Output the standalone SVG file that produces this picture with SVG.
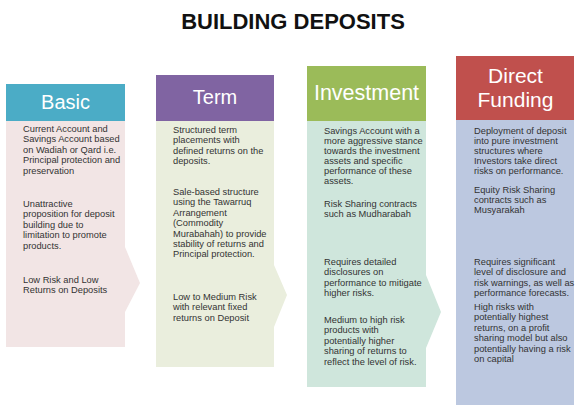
<svg xmlns="http://www.w3.org/2000/svg" width="584" height="412" viewBox="0 0 584 412">
<style>
.title{font-family:"Liberation Sans",Arial,sans-serif;font-weight:bold;font-size:22px;fill:#111;text-anchor:middle}
.hd{font-family:"Liberation Sans",Arial,sans-serif;font-size:20px;fill:#fff;text-anchor:middle}
.tx{font-family:"Liberation Sans",Arial,sans-serif;font-size:9.3px;fill:#333}
</style>
<rect width="584" height="412" fill="#fff"/>
<text class="title" x="293" y="29">BUILDING DEPOSITS</text>
<g id="connectors"></g>
<g id="basic">
<path d="M6,121 H125 V247 L140,283 L125,312 V347 H6 Z" fill="#F2E5E5"/>
<rect x="6" y="84" width="119" height="37" fill="#4BACC6"/>
<text class="hd" x="65.5" y="109">Basic</text>
<text class="tx">
<tspan x="23" y="132">Current Account and</tspan>
<tspan x="23" y="142.4">Savings Account based</tspan>
<tspan x="23" y="152.8">on Wadiah or Qard i.e.</tspan>
<tspan x="23" y="163.2">Principal protection and</tspan>
<tspan x="23" y="173.6">preservation</tspan>
<tspan x="23" y="207">Unattractive</tspan>
<tspan x="23" y="217.4">proposition for deposit</tspan>
<tspan x="23" y="227.8">building due to</tspan>
<tspan x="23" y="238.2">limitation to promote</tspan>
<tspan x="23" y="248.6">products.</tspan>
<tspan x="23" y="283">Low Risk and Low</tspan>
<tspan x="23" y="293.4">Returns on Deposits</tspan>
</text>
</g>
<g id="term">
<path d="M156,121 H274 V265 L287,295 L274,327 V367 H156 Z" fill="#EAEEDD"/>
<rect x="156" y="75" width="118" height="46" fill="#8064A2"/>
<text class="hd" x="215" y="104">Term</text>
<text class="tx">
<tspan x="173" y="132.7">Structured term</tspan>
<tspan x="173" y="143.1">placements with</tspan>
<tspan x="173" y="153.5">defined returns on the</tspan>
<tspan x="173" y="163.9">deposits.</tspan>
<tspan x="173" y="195">Sale-based structure</tspan>
<tspan x="173" y="205.4">using the Tawarruq</tspan>
<tspan x="173" y="215.8">Arrangement</tspan>
<tspan x="173" y="226.2">(Commodity</tspan>
<tspan x="173" y="236.6">Murabahah) to provide</tspan>
<tspan x="173" y="247">stability of returns and</tspan>
<tspan x="173" y="257.4">Principal protection.</tspan>
<tspan x="173" y="300">Low to Medium Risk</tspan>
<tspan x="173" y="310.4">with relevant fixed</tspan>
<tspan x="173" y="320.8">returns on Deposit</tspan>
</text>
</g>
<g id="investment">
<path d="M307,121 H426 V275 L441,312 L426,348 V387 H307 Z" fill="#CFE6DC"/>
<rect x="307" y="66" width="119" height="55" fill="#9BBB59"/>
<text class="hd" x="366.5" y="100" style="font-size:21.5px">Investment</text>
<text class="tx">
<tspan x="324" y="133.7">Savings Account with a</tspan>
<tspan x="324" y="143.7">more aggressive stance</tspan>
<tspan x="324" y="153.7">towards the investment</tspan>
<tspan x="324" y="163.7">assets and specific</tspan>
<tspan x="324" y="173.7">performance of these</tspan>
<tspan x="324" y="183.7">assets.</tspan>
<tspan x="324" y="207">Risk Sharing contracts</tspan>
<tspan x="324" y="217.2">such as Mudharabah</tspan>
<tspan x="324" y="265">Requires detailed</tspan>
<tspan x="324" y="275.4">disclosures on</tspan>
<tspan x="324" y="285.8">performance to mitigate</tspan>
<tspan x="324" y="296.2">higher risks.</tspan>
<tspan x="324" y="323">Medium to high risk</tspan>
<tspan x="324" y="333.4">products with</tspan>
<tspan x="324" y="343.8">potentially higher</tspan>
<tspan x="324" y="354.2">sharing of returns to</tspan>
<tspan x="324" y="364.6">reflect the level of risk.</tspan>
</text>
</g>
<g id="direct-funding">
<rect x="456" y="120" width="118" height="285" fill="#BCC8E0"/>
<rect x="456" y="56" width="118" height="64" fill="#C0504D"/>
<text class="hd" x="515.5" y="83" style="font-size:21px">Direct</text>
<text class="hd" x="515.5" y="107" style="font-size:21px">Funding</text>
<text class="tx">
<tspan x="474" y="133.5">Deployment of deposit</tspan>
<tspan x="474" y="143.5">into pure investment</tspan>
<tspan x="474" y="153.5">structures where</tspan>
<tspan x="474" y="163.5">Investors take direct</tspan>
<tspan x="474" y="173.5">risks on performance.</tspan>
<tspan x="474" y="192.5">Equity Risk Sharing</tspan>
<tspan x="474" y="202.5">contracts such as</tspan>
<tspan x="474" y="212.5">Musyarakah</tspan>
<tspan x="474" y="265">Requires significant</tspan>
<tspan x="474" y="275.4">level of disclosure and</tspan>
<tspan x="474" y="285.8">risk warnings, as well as</tspan>
<tspan x="474" y="296.2">performance forecasts.</tspan>
<tspan x="474" y="310">High risks with</tspan>
<tspan x="474" y="320.4">potentially highest</tspan>
<tspan x="474" y="330.8">returns, on a profit</tspan>
<tspan x="474" y="341.2">sharing model but also</tspan>
<tspan x="474" y="351.6">potentially having a risk</tspan>
<tspan x="474" y="362">on capital</tspan>
</text>
</g>
</svg>
